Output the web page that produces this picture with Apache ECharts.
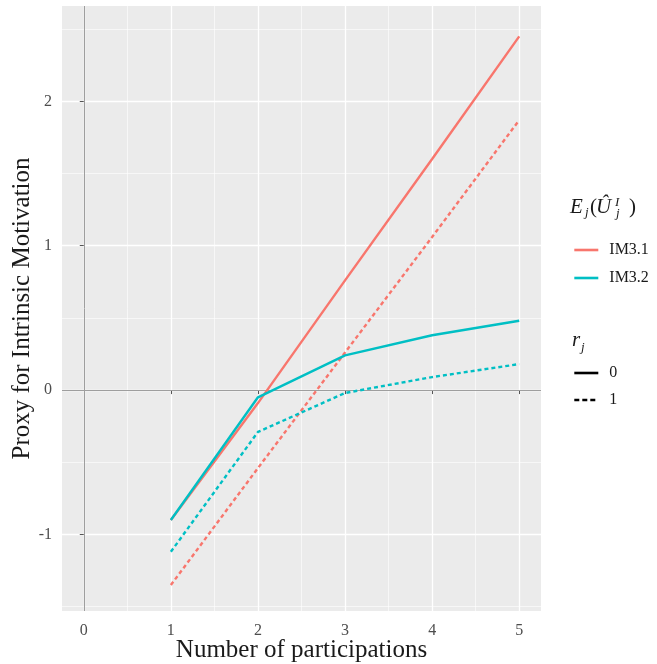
<!DOCTYPE html>
<html>
<head>
<meta charset="utf-8">
<script src="https://cdn.jsdelivr.net/npm/echarts@6/dist/echarts.min.js"></script>
<style>
html,body{margin:0;padding:0;background:#fff;}
#c{width:657px;height:664px;}
</style>
</head>
<body>
<div id="c"></div>
<script>
// ---- data ----
const participations = [1, 2, 3, 4, 5];
const im31_r0 = [-0.90, -0.09, 0.76, 1.60, 2.45];
const im31_r1 = [-1.35, -0.54, 0.26, 1.06, 1.87];
const im32_r0 = [-0.90, -0.05, 0.24, 0.38, 0.48];
const im32_r1 = [-1.12, -0.29, -0.02, 0.09, 0.18];

const xTicks = [0, 1, 2, 3, 4, 5];
const yTicks = [-1, 0, 1, 2];
const xMinor = [0.5, 1.5, 2.5, 3.5, 4.5];
const yMinor = [-1.5, -0.5, 0.5, 1.5, 2.5];
const groupLabels = ['IM3.1', 'IM3.2'];
const rLabels = ['0', '1'];

// ---- styling ----
const RED = '#F8766D', TEAL = '#00BFC4';
const FONT = '"Liberation Serif", "DejaVu Serif", serif';
const DASH = [4, 3];

function pairs(ys) { return participations.map((x, i) => [x, ys[i]]); }

function lineSeries(name, ys, color, dashed) {
  return {
    name: name, type: 'line', data: pairs(ys),
    symbol: 'none', showSymbol: false, silent: true, z: 5,
    lineStyle: { color: color, width: 2.4, type: dashed ? DASH : 'solid' },
    itemStyle: { color: color },
    emphasis: { disabled: true }
  };
}
function dummyLegendSeries(name, dashed) {
  return {
    name: name, type: 'line', data: [], symbol: 'none', showSymbol: false,
    lineStyle: { color: '#000', width: 2.4, type: dashed ? [5, 3] : 'solid' },
    itemStyle: { color: '#000' }
  };
}
function markLineSeries(id, color, width, lines, z) {
  return {
    id: id, type: 'line', data: [], z: z, silent: true,
    markLine: {
      silent: true, symbol: ['none', 'none'], animation: false,
      label: { show: false }, emphasis: { disabled: true },
      lineStyle: { color: color, width: width, type: 'solid' },
      data: lines
    }
  };
}

const chart = echarts.init(document.getElementById('c'), null, { renderer: 'canvas' });

const tickLabelStyle = { fontFamily: FONT, fontSize: 16, color: '#4d4d4d' };
const nameStyle = { fontFamily: FONT, fontSize: 25, color: '#1a1a1a' };

function gtext(text, x, y, size, italic) {
  return {
    type: 'text', silent: true,
    style: {
      text: text, x: x, y: y, fill: '#1a1a1a',
      font: (italic ? 'italic ' : '') + size + 'px ' + FONT,
      verticalAlign: 'middle', align: 'left'
    }
  };
}

const legendCommon = {
  orient: 'vertical', left: 573, padding: 0,
  itemWidth: 24, itemHeight: 16, selectedMode: false,
  itemStyle: { opacity: 0 },
  lineStyle: { width: 2.6 },
  textStyle: { fontFamily: FONT, fontSize: 16, color: '#1a1a1a', padding: [0, 0, 0, 6] }
};

chart.setOption({
  animation: false,
  backgroundColor: '#ffffff',
  grid: {
    left: 62, right: 116, top: 6, bottom: 53,
    outerBoundsMode: 'none', containLabel: false,
    show: true, backgroundColor: '#EBEBEB', borderWidth: 0
  },
  xAxis: {
    type: 'value', min: -0.25, max: 5.25,
    name: 'Number of participations', nameLocation: 'middle', nameGap: 27,
    nameMoveOverlap: false,
    nameTextStyle: nameStyle,
    axisLine: { show: false },
    axisTick: { show: true, length: 4, lineStyle: { color: '#555', width: 1 }, customValues: xTicks },
    axisLabel: Object.assign({ customValues: xTicks, margin: 12 }, tickLabelStyle),
    splitLine: { show: true, lineStyle: { color: '#ffffff', width: 1.3 } }
  },
  yAxis: {
    type: 'value', min: -1.53, max: 2.66,
    name: 'Proxy for Intrinsic Motivation', nameLocation: 'middle', nameGap: 27, nameRotate: 90,
    nameMoveOverlap: false,
    nameTextStyle: nameStyle,
    axisLine: { show: false },
    axisTick: { show: true, length: 4, lineStyle: { color: '#555', width: 1 }, customValues: yTicks },
    axisLabel: Object.assign({ customValues: yTicks, margin: 10 }, tickLabelStyle),
    splitLine: { show: true, lineStyle: { color: '#ffffff', width: 1.3 } }
  },
  legend: [
    Object.assign({ data: groupLabels, top: 242, itemGap: 12 }, legendCommon),
    Object.assign({ data: rLabels, top: 365, itemGap: 11 }, legendCommon)
  ],
  graphic: [
    gtext('E', 570, 207, 21, true),
    gtext('j', 585, 213, 13, true),
    gtext('(', 590, 207, 21, false),
    gtext('\u00DB', 596, 207, 21, true),
    gtext('I', 615, 203, 13, true),
    gtext('j', 616, 214, 13, true),
    gtext(')', 629, 207, 21, false),
    gtext('r', 572, 340, 21, true),
    gtext('j', 581, 348, 13, true)
  ],
  series: [
    markLineSeries('minorGrid', '#ffffff', 0.6,
      xMinor.map(v => ({ xAxis: v })).concat(yMinor.map(v => ({ yAxis: v }))), 1),
    markLineSeries('zeroLines', '#9e9e9e', 1,
      [{ xAxis: 0 }, { yAxis: 0 }], 2),
    lineSeries('IM3.1', im31_r0, RED, false),
    lineSeries('IM3.1', im31_r1, RED, true),
    lineSeries('IM3.2', im32_r0, TEAL, false),
    lineSeries('IM3.2', im32_r1, TEAL, true),
    dummyLegendSeries('0', false),
    dummyLegendSeries('1', true)
  ]
});
</script>
</body>
</html>
